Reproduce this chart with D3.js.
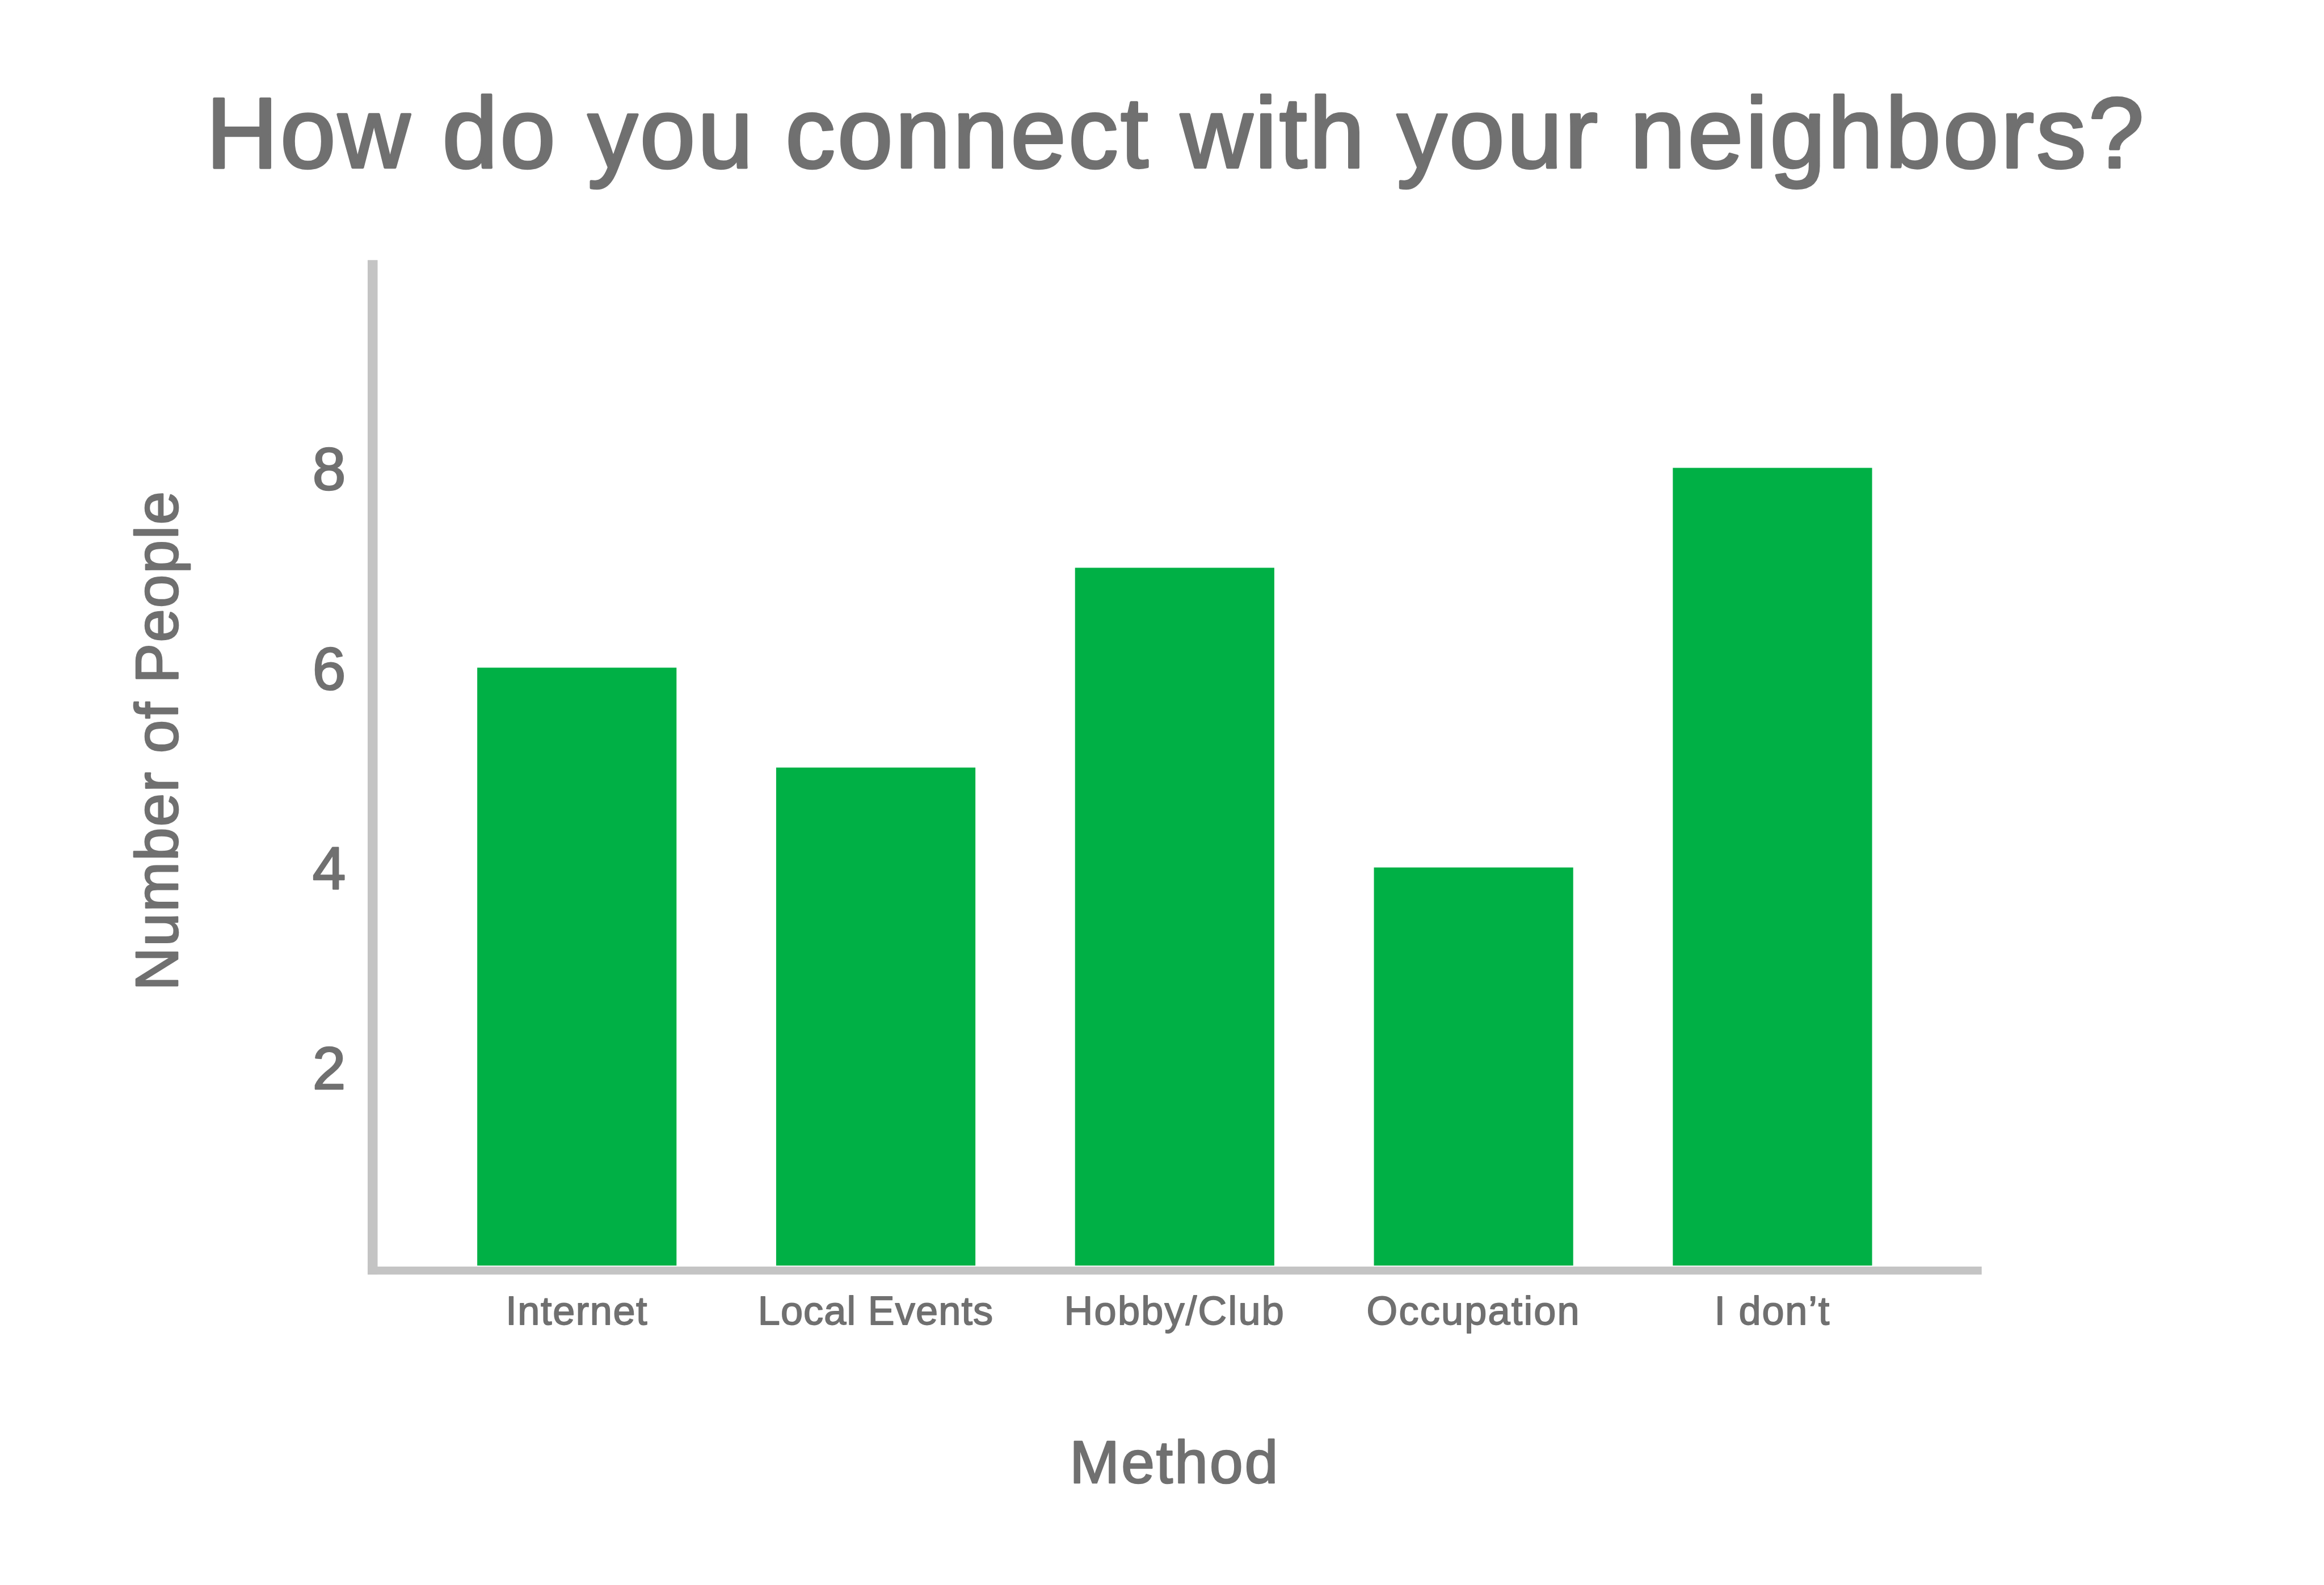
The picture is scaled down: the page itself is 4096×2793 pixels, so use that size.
<!DOCTYPE html>
<html>
<head>
<meta charset="utf-8">
<script src="https://cdn.jsdelivr.net/npm/d3@7"></script>
<style>
  html, body { margin: 0; padding: 0; background: #ffffff; }
  svg { display: block; }
  text { font-family: "Liberation Sans", Arial, Helvetica, sans-serif; fill: #707070; stroke: #707070; stroke-linejoin: round; }
</style>
</head>
<body>
<script>
const categories = ["Internet", "Local Events", "Hobby/Club", "Occupation", "I don\u2019t"];
const values = [6, 5, 7, 4, 8];
const yTicks = [2, 4, 6, 8];
const title = "How do you connect with your neighbors?";
const xTitle = "Method";
const yTitle = "Number of People";

const W = 4096, H = 2793, S = 0.878;
const svg = d3.select("body").append("svg").attr("width", W).attr("height", H);
const g = svg.append("g").attr("transform", `scale(${S})`);

const textColor = "#707070", axisColor = "#c4c4c4", barColor = "#00b045";

const x = d3.scaleBand().domain(categories).range([758, 3958]).paddingInner(1/3).paddingOuter(1/3);
const y = d3.scaleLinear().domain([0, 8]).range([2543, 939]);

function fit(sel, target) {
  sel.each(function() {
    const len = this.getComputedTextLength();
    const n = this.textContent.length;
    if (n > 1) d3.select(this).style("letter-spacing", ((target - len) / (n - 1)) + "px");
  });
}

// Title
g.append("text").attr("x", 2361).attr("y", 336).attr("text-anchor", "middle")
  .style("font-size", "200px").style("stroke-width", "5px").text(title)
  .call(fit, 3890);

// Bars
g.selectAll("rect.bar").data(values).enter().append("rect").attr("class", "bar")
  .attr("x", (d, i) => x(categories[i])).attr("width", x.bandwidth())
  .attr("y", d => y(d)).attr("height", d => y(0) - 3 - y(d))
  .attr("fill", barColor);

// Y axis tick labels
const yAxis = g.append("g").attr("transform", "translate(738,0)")
  .call(d3.axisLeft(y).tickValues(yTicks).tickSize(0).tickPadding(44).tickFormat(d3.format("d")));
yAxis.select(".domain").remove();
yAxis.selectAll("text").style("font-size", "120px").style("stroke-width", "3px")
  .attr("fill", textColor).attr("dy", "0.36em");

// X axis tick labels
const labelWidths = [284, 472, 441, 427, 231];
const xAxis = g.append("g").attr("transform", "translate(0,2558)")
  .call(d3.axisBottom(x).tickSize(0).tickPadding(100));
xAxis.select(".domain").remove();
xAxis.selectAll("text").style("font-size", "80px").style("stroke-width", "2px")
  .attr("fill", textColor).attr("dy", "0")
  .each(function(d, i) { d3.select(this).call(fit, labelWidths[i]); });

// Axis lines
g.append("rect").attr("x", 738).attr("y", 522).attr("width", 20).attr("height", 2558 - 522).attr("fill", axisColor);
g.append("rect").attr("x", 738).attr("y", 2542).attr("width", 3978 - 738).attr("height", 16).attr("fill", axisColor);

// Axis titles
g.append("text").attr("x", 2358).attr("y", 2976).attr("text-anchor", "middle")
  .style("font-size", "120px").style("stroke-width", "3px").text(xTitle)
  .call(fit, 418);
g.append("text").attr("transform", "translate(356,1486) rotate(-90)").attr("text-anchor", "middle")
  .style("font-size", "120px").style("stroke-width", "3px").text(yTitle)
  .call(fit, 1002);
</script>
</body>
</html>
